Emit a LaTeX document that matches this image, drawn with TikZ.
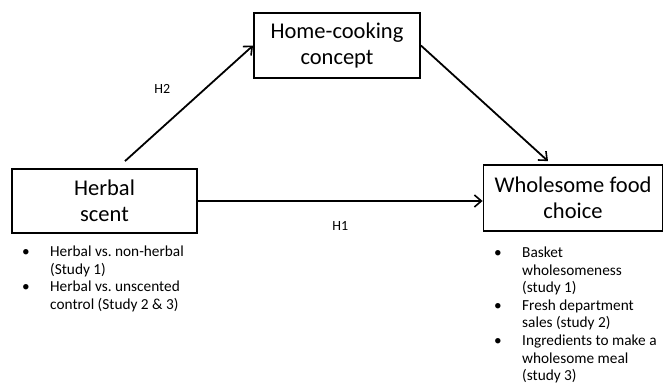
\documentclass[tikz,border=0pt]{standalone}
\usepackage{fontspec}
\setmainfont{Carlito}
\usetikzlibrary{arrows.meta}
\frenchspacing

\tikzset{
  factor/.style={draw, line width=1.8pt, inner sep=0pt, align=center,
    font=\fontsize{22.5}{26}\selectfont},
  path/.style={line width=1.8pt, -{Straight Barb[length=7pt,width=12pt,line width=1.6pt]}},
  hyp/.style={font=\fontsize{14}{16}\selectfont},
  bullets/.style={anchor=north west, inner sep=0pt,
    font=\fontsize{15.3}{17.6}\selectfont}
}
\newenvironment{notes}{\begin{tabular}{@{}p{28pt}@{}l@{}}}{\end{tabular}}

\begin{document}
\begin{tikzpicture}[x=1pt,y=1pt]
    \useasboundingbox (0,0) rectangle (665,-384);
    \node[factor, minimum width=185pt, minimum height=64pt] (herbal) at (104.5,-201)
    {Herbal\\scent}; \node[factor, minimum width=166pt, minimum height=65pt] (home) at (337,-45.5)
    {Home-cooking\\concept}; \node[factor, minimum width=179pt, minimum height=66pt] (whole) at (573,-198)
    {Wholesome food\\choice};
    \draw[path] (herbal.east) -- (herbal.east -| whole.west)
    node[hyp, midway, below=16pt] {H1};
    \draw[path] ([xshift=20.5pt,yshift=7pt]herbal.north) -- (home.west)
    node[hyp, pos=0.62, left=30pt] {H2};
    \draw[path] (home.east) -- ([xshift=-25pt,yshift=3pt]whole.north);
    \node[bullets] (herbalnotes) at (22,-244)
    {\begin{notes}\textbullet & Herbal vs. non-herbal\\ & (Study 1)\\
    \textbullet & Herbal vs. unscented\\ & control (Study 2 \& 3)\end{notes}};
    \node[bullets] (wholenotes) at (494,-245)
    {\begin{notes}\textbullet & Basket\\ & wholesomeness\\ & (study 1)\\
    \textbullet & Fresh department\\ & sales (study 2)\\
    \textbullet & Ingredients to make a\\ & wholesome meal\\ & (study 3)\end{notes}};
  \end{tikzpicture}
\end{document}
